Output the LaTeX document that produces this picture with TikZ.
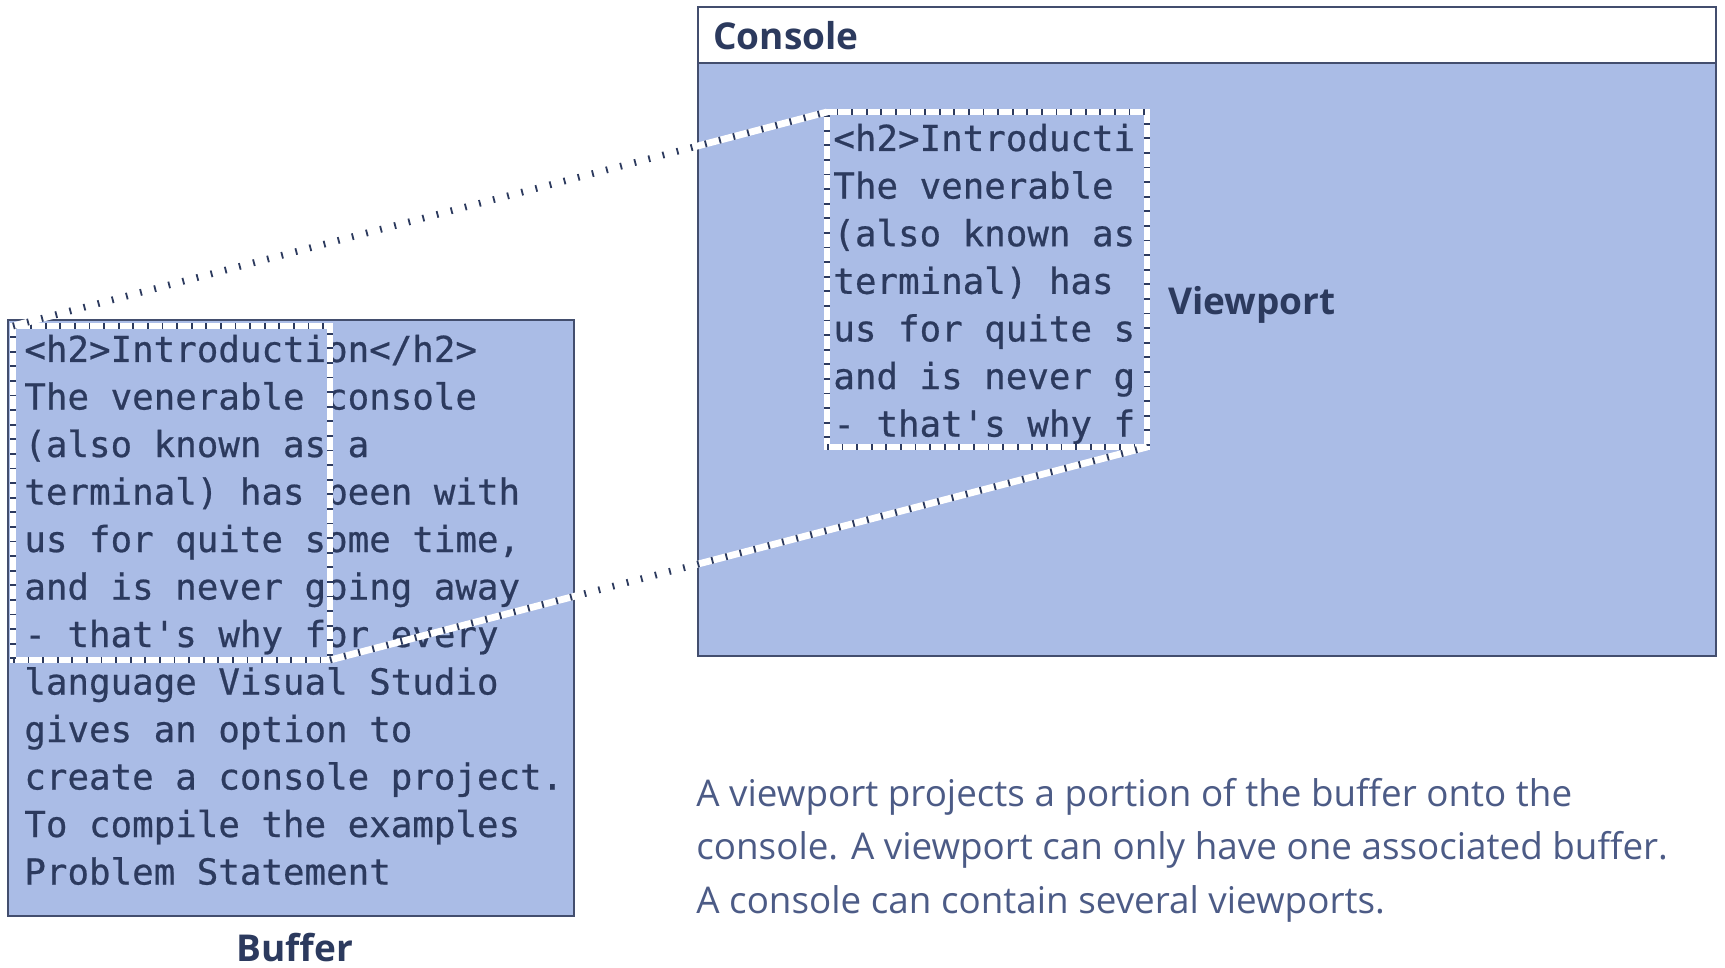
\documentclass[tikz,border=0pt]{standalone}
\usepackage{fontspec}
\setmainfont{Open Sans}
\newfontfamily\monofont{DejaVu Sans Mono}[BoldFont=DejaVu Sans Mono, BoldFeatures={FakeBold=0.6}]
\definecolor{fillblue}{HTML}{AABCE6}
\definecolor{edge}{HTML}{434E6E}
\definecolor{ink}{HTML}{2C3A5E}
\definecolor{capink}{HTML}{4C5B86}
\begin{document}
\begin{tikzpicture}[x=0.5pt,y=-0.5pt,
  box/.style={draw=edge, line width=1.2pt, fill=fillblue, inner sep=0pt, outer sep=0pt},
  titlebox/.style={draw=edge, line width=1.2pt, fill=white, inner sep=0pt, outer sep=0pt},
  mono/.style={font=\monofont\bfseries\fontsize{17.9}{20}\selectfont, text=ink, anchor=base west, inner sep=0pt},
  lbl/.style={font=\bfseries\fontsize{18.5}{22}\selectfont, text=ink, inner sep=0pt},
  captext/.style={font=\fontsize{18.4}{22}\selectfont, text=capink, anchor=base west, inner sep=0pt},
  vp/.style={draw=ink, line width=3.4pt, dash pattern=on 0.9pt off 6.4pt,
    preaction={draw=white, line width=3.4pt, solid}, inner sep=0pt, outer sep=0pt},
  conn/.style={draw=ink, line width=3.4pt, dash pattern=on 0.9pt off 6.4pt,
    preaction={draw=white, line width=3.4pt, solid}}]
\useasboundingbox (0,0) rectangle (1725,968);

% Buffer
\node[box, minimum width=283pt, minimum height=298pt] (buf) at (291,618) {};
\foreach \t [count=\i from 0] in {
  {<h2>Introduction</h2>},
  {The venerable console},
  {(also known as a},
  {terminal) has been with},
  {us for quite some time,},
  {and is never going away},
  {- that's why for every},
  {language Visual Studio},
  {gives an option to},
  {create a console project.},
  {To compile the examples},
  {Problem Statement}}
  \node[mono] (b\i) at (24,{362+47.5*\i}) {\t};

% Console
\node[titlebox, minimum width=509pt, minimum height=28pt] (ctitle) at (1207,35) {};
\node[box, minimum width=509pt, minimum height=296.5pt] (cbody) at (1207,359.5) {};
\node[lbl, anchor=west] (clabel) at (713,36) {Console};
\foreach \t [count=\i from 0] in {
  {<h2>Introducti},
  {The venerable},
  {(also known as},
  {terminal) has},
  {us for quite s},
  {and is never g},
  {- that's why f}}
  \node[mono] (c\i) at (833,{151+47.6*\i}) {\t};

% Viewports
\node[vp, minimum width=158.5pt, minimum height=167pt] (bv) at (171.5,493) {};
\node[vp, minimum width=160pt, minimum height=167.5pt] (cv) at (987,279.5) {};

% Labels
\node[lbl, anchor=west] (vlabel) at (1168,305) {Viewport};
\node[lbl] (blabel) at (295,948) {Buffer};

% Caption
\node[captext] (t1) at (696,806) {A viewport projects a portion of the buffer onto the};
\node[captext] (t2) at (696,859) {console. A viewport can only have one associated buffer.};
\node[captext] (t3) at (696,913) {A console can contain several viewports.};

% Connectors
\draw[conn] (bv.north west) -- (cv.north west);
\draw[conn] (bv.south east) -- (cv.south east);
\end{tikzpicture}
\end{document}
